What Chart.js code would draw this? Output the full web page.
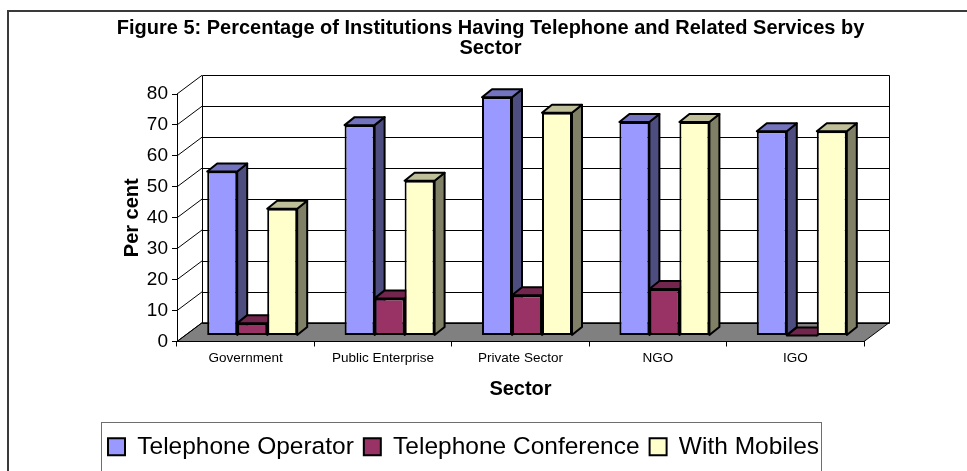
<!DOCTYPE html>
<html>
<head>
<meta charset="utf-8">
<script src="https://cdn.jsdelivr.net/npm/chart.js@4.4.0/dist/chart.umd.min.js"></script>
<style>
  html, body { margin: 0; padding: 0; background: #fff; }
  canvas { display: block; }
</style>
</head>
<body>
<canvas id="myChart" width="967" height="471"></canvas>
<script>
    // data
    var categories = ['Government', 'Public Enterprise', 'Private Sector', 'NGO', 'IGO'];
    var seriesNames = ['Telephone Operator', 'Telephone Conference', 'With Mobiles'];
    var telephoneOperator = [53, 68, 77, 69, 66];
    var telephoneConference = [4, 12, 13, 15, 0];
    var withMobiles = [41, 50, 72, 69, 66];
    var yMin = 0, yMax = 80, yStep = 10;

    var frontColors = ['#9999FF', '#993366', '#FFFFCC'];
    var topColors = ['#7373BF', '#73264D', '#BFBF99'];
    var sideColors = ['#4D4D80', '#4D1A33', '#808066'];

    // offsets used for the fake 3d look
    var wallDX = 25, wallDY = 18.7;   // floor / back wall depth
    var barDX = 6.5, barDY = 6;       // bar front plane inside the floor
    var boxDX = 10, boxDY = 8;        // depth of one bar

    Chart.defaults.font.family = "'Liberation Sans', Arial, sans-serif";
    Chart.defaults.color = '#000';

    function crisp(v) {
        return Math.round(v) + 0.5;
    }

    var threeD = {
        id: 'threeD',
        beforeDraw: function(chart) {
            var ctx = chart.ctx;
            var a = chart.chartArea;
            var y = chart.scales.y;
            ctx.save();

            // outer frame of the figure
            ctx.strokeStyle = '#3a3a3a';
            ctx.lineWidth = 2;
            ctx.strokeRect(8, 11, 1200, 900);

            // floor
            ctx.beginPath();
            ctx.moveTo(a.left, a.bottom);
            ctx.lineTo(a.right, a.bottom);
            ctx.lineTo(a.right + wallDX, a.bottom - wallDY);
            ctx.lineTo(a.left + wallDX, a.bottom - wallDY);
            ctx.closePath();
            ctx.fillStyle = '#808080';
            ctx.fill();
            ctx.strokeStyle = '#000';
            ctx.lineWidth = 1;
            ctx.stroke();

            // back wall + left wall grid
            var backL = crisp(a.left + wallDX), backR = crisp(a.right + wallDX);
            var backTop = crisp(y.getPixelForValue(yMax) - wallDY);
            var backBottom = crisp(y.getPixelForValue(yMin) - wallDY);
            ctx.beginPath();
            y.ticks.forEach(function(t) {
                var py = y.getPixelForValue(t.value);
                var by = crisp(py - wallDY);
                ctx.moveTo(backL, by);
                ctx.lineTo(backR, by);
                ctx.moveTo(a.left, py);
                ctx.lineTo(a.left + wallDX, py - wallDY);
            });
            ctx.moveTo(backL, backTop);
            ctx.lineTo(backL, backBottom);
            ctx.moveTo(backR, backTop);
            ctx.lineTo(backR, backBottom);
            ctx.strokeStyle = '#000';
            ctx.lineWidth = 1;
            ctx.stroke();

            // legend frame
            ctx.strokeStyle = '#6e6e6e';
            ctx.strokeRect(101.5, 422.5, 720, 200);
            ctx.restore();
        },
        beforeDatasetsDraw: function(chart) {
            var ctx = chart.ctx;
            ctx.save();
            ctx.translate(barDX, -barDY);
            ctx.lineWidth = 2;
            ctx.lineJoin = 'round';
            ctx.strokeStyle = '#000';
            categories.forEach(function(cat, i) {
                for (var d = 0; d < chart.data.datasets.length; d++) {
                    var el = chart.getDatasetMeta(d).data[i];
                    var left = el.x - el.width / 2, right = el.x + el.width / 2;
                    var top = Math.min(el.y, el.base), base = Math.max(el.y, el.base);
                    // side face
                    ctx.beginPath();
                    ctx.moveTo(right, top);
                    ctx.lineTo(right + boxDX, top - boxDY);
                    ctx.lineTo(right + boxDX, base - boxDY);
                    ctx.lineTo(right, base);
                    ctx.closePath();
                    ctx.fillStyle = sideColors[d];
                    ctx.fill();
                    ctx.stroke();
                    // top face
                    ctx.beginPath();
                    ctx.moveTo(left, top);
                    ctx.lineTo(left + boxDX, top - boxDY);
                    ctx.lineTo(right + boxDX, top - boxDY);
                    ctx.lineTo(right, top);
                    ctx.closePath();
                    ctx.fillStyle = topColors[d];
                    ctx.fill();
                    ctx.stroke();
                }
            });
            // keep the translation so the library draws the front faces in the same plane
        },
        afterDatasetsDraw: function(chart) {
            chart.ctx.restore();
        }
    };

    var allSeries = [telephoneOperator, telephoneConference, withMobiles];

    var ctx = document.getElementById('myChart').getContext('2d');
    var myChart = new Chart(ctx, {
        type: 'bar',
        data: {
            labels: categories,
            datasets: allSeries.map(function(values, d) {
                return {
                    label: seriesNames[d],
                    data: values,
                    backgroundColor: frontColors[d],
                    borderColor: '#000',
                    borderWidth: 2,
                    borderSkipped: false,
                    categoryPercentage: 0.655,
                    barPercentage: 1,
                    clip: false
                };
            })
        },
        options: {
            responsive: false,
            animation: false,
            events: [],
            layout: {
                padding: { left: 98, right: 84, top: 0, bottom: 2 }
            },
            plugins: {
                title: {
                    display: true,
                    text: ['Figure 5: Percentage of Institutions Having Telephone and Related Services by', 'Sector'],
                    color: '#000',
                    font: { size: 20, weight: 'bold', lineHeight: 1.0 },
                    padding: { top: 18, bottom: 36 }
                },
                legend: {
                    position: 'bottom',
                    align: 'start',
                    labels: {
                        boxWidth: 17,
                        boxHeight: 17,
                        padding: 10,
                        color: '#000',
                        font: { size: 24.5 }
                    }
                },
                tooltip: { enabled: false }
            },
            scales: {
                x: {
                    grid: { drawOnChartArea: false, tickLength: 5, color: '#000', offset: true },
                    border: { color: '#000' },
                    ticks: { padding: 4, font: { size: 13.5 }, color: '#000', maxRotation: 0 },
                    title: {
                        display: true,
                        text: 'Sector',
                        font: { size: 20, weight: 'bold' },
                        padding: { top: 0, bottom: 23 }
                    },
                    afterFit: function(scale) { scale.height = 83; }
                },
                y: {
                    min: yMin,
                    max: yMax,
                    ticks: { stepSize: yStep, padding: 4, font: { size: 19 }, color: '#000' },
                    grid: { drawOnChartArea: false, tickLength: 5, color: '#000' },
                    border: { color: '#000' },
                    title: {
                        display: true,
                        text: 'Per cent',
                        font: { size: 20, weight: 'bold' },
                        padding: { top: 22, bottom: 0 }
                    },
                    afterFit: function(scale) { scale.width = 79; }
                },
                y2: {
                    position: 'right',
                    display: true,
                    grid: { display: false },
                    ticks: { display: false },
                    border: { display: false },
                    afterFit: function(scale) { scale.width = 19; }
                }
            }
        },
        plugins: [threeD]
    });
</script>
</body>
</html>
